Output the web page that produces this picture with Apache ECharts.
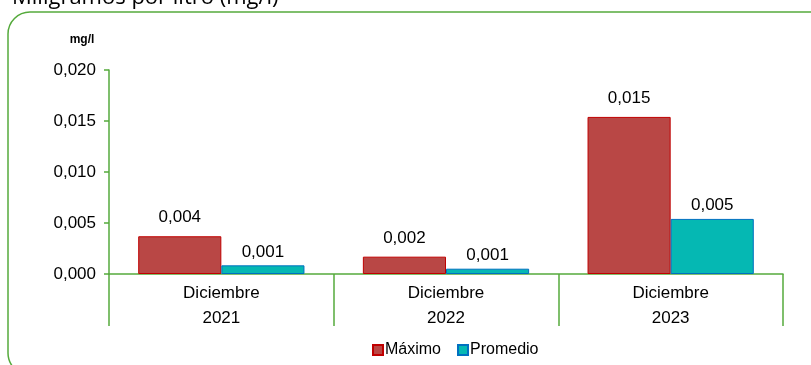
<!DOCTYPE html>
<html>
<head>
<meta charset="utf-8">
<script src="https://cdn.jsdelivr.net/npm/echarts@6/dist/echarts.min.js"></script>
<style>html,body{margin:0;padding:0;background:#fff}#c{width:811px;height:365px}</style>
</head>
<body>
<div id="c"></div>
<script>
const categories = ['Diciembre\n2021', 'Diciembre\n2022', 'Diciembre\n2023'];
const maximo = [0.0037, 0.0017, 0.0154];
const promedio = [0.00085, 0.00052, 0.0054];
const seriesNames = ['Máximo', 'Promedio'];
const yTicks = { min: 0, max: 0.02, interval: 0.005 };
const titleText = 'Miligramos por litro (mg/l)';
const unitText = 'mg/l';

const green = '#55AA3C';
const font = "'Liberation Sans Narrow', 'Liberation Sans', Arial, sans-serif";
const fmt = v => v.toFixed(3).replace('.', ',');

const chart = echarts.init(document.getElementById('c'), null, { renderer: 'canvas' });
chart.setOption({
  animation: false,
  backgroundColor: '#fff',
  grid: { left: 109, right: 28, top: 70, bottom: 91 },
  graphic: [
    { type: 'rect', shape: { x: 8, y: 12, width: 830, height: 363, r: 22 },
      style: { fill: 'none', stroke: green, lineWidth: 1.5 }, silent: true, z: -1 },
    { type: 'text', x: 12, y: 9, style: { text: titleText, font: "22px 'Open Sans', 'Noto Sans', sans-serif", fill: '#000', verticalAlign: 'bottom' } },
    { type: 'text', x: 82, y: 40, style: { text: unitText, font: "bold 12px 'Liberation Sans', Arial, sans-serif", fill: '#000', align: 'center', verticalAlign: 'middle' } }
  ],
  legend: {
    data: seriesNames,
    bottom: 2, left: 367,
    itemWidth: 10, itemHeight: 10, itemGap: 16,
    icon: 'rect',
    textStyle: { fontFamily: font, fontSize: 16, color: '#000', padding: [0, 0, 0, -3] }
  },
  xAxis: {
    type: 'category',
    data: categories,
    axisLine: { lineStyle: { color: green, width: 1.5 } },
    axisTick: { show: true, length: 52, interval: 0, alignWithLabel: false, lineStyle: { color: green, width: 1.5 } },
    axisLabel: { interval: 0, margin: 7, fontFamily: font, fontSize: 17, color: '#000', lineHeight: 25 }
  },
  yAxis: {
    type: 'value',
    min: yTicks.min, max: yTicks.max, interval: yTicks.interval,
    splitLine: { show: false },
    axisLine: { show: true, lineStyle: { color: green, width: 1.5 } },
    axisTick: { show: true, length: 5, lineStyle: { color: green, width: 1.5 } },
    axisLabel: { margin: 13, fontFamily: font, fontSize: 17, color: '#000', formatter: v => fmt(v) }
  },
  series: [
    { name: seriesNames[0], type: 'bar', data: maximo, barGap: '0%', barCategoryGap: '26%',
      itemStyle: { color: '#B94745', borderColor: '#C00000', borderWidth: 1 },
      label: { show: true, position: 'top', distance: 10, fontFamily: font, fontSize: 17, color: '#000', formatter: p => fmt(p.value) } },
    { name: seriesNames[1], type: 'bar', data: promedio, barGap: '0%', barCategoryGap: '26%',
      itemStyle: { color: '#05B8B3', borderColor: '#0070C0', borderWidth: 1 },
      label: { show: true, position: 'top', distance: 5, fontFamily: font, fontSize: 17, color: '#000', formatter: p => fmt(p.value) } }
  ]
});
</script>
</body>
</html>
